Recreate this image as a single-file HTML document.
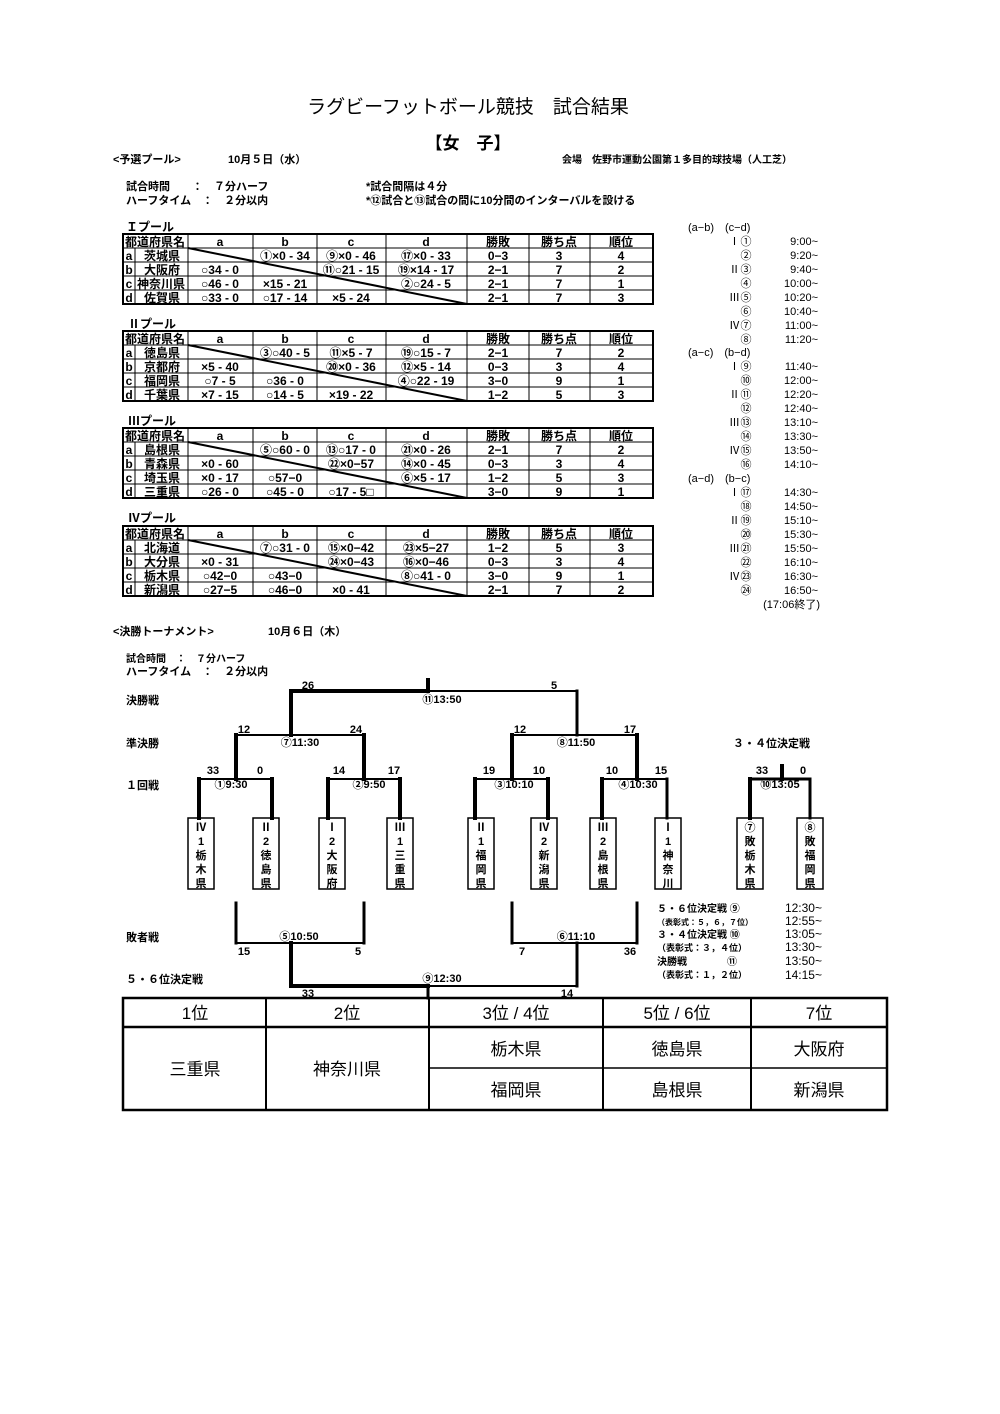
<!DOCTYPE html>
<html><head><meta charset="utf-8"><style>
html,body{margin:0;padding:0;background:#fff;}
svg{display:block;font-family:"Liberation Sans","Noto Sans CJK JP",sans-serif;}
.b{font-weight:bold}
</style></head><body>
<svg width="1000" height="1414" viewBox="0 0 1000 1414" xmlns="http://www.w3.org/2000/svg">
<rect width="1000" height="1414" fill="#fff"/>
<text x="468" y="113" font-size="19" text-anchor="middle">ラグビーフットボール競技　試合結果</text>
<text x="468" y="149" font-size="17" text-anchor="middle" class="b">【女　子】</text>
<g font-size="11" class="b">
<text x="113" y="163">&lt;予選プール&gt;</text>
<text x="228" y="163">10月５日（水）</text>
<text x="562" y="163" font-size="10">会場　佐野市運動公園第１多目的球技場（人工芝）</text>
<text x="126" y="190">試合時間　　：　７分ハーフ</text>
<text x="126" y="204">ハーフタイム　：　２分以内</text>
<text x="366" y="190">*試合間隔は４分</text>
<text x="366" y="204">*⑫試合と⑬試合の間に10分間のインターバルを設ける</text>
</g>

<defs>
<g id="grid" fill="none" stroke="#000">
<rect x="123" y="0" width="530" height="70" stroke-width="2"/>
<line x1="123" y1="14" x2="653" y2="14"/><line x1="123" y1="28" x2="653" y2="28"/><line x1="123" y1="42" x2="653" y2="42"/><line x1="123" y1="56" x2="653" y2="56"/>
<line x1="188" y1="0" x2="188" y2="70"/><line x1="253" y1="0" x2="253" y2="70"/><line x1="317" y1="0" x2="317" y2="70"/><line x1="386" y1="0" x2="386" y2="70"/><line x1="467" y1="0" x2="467" y2="70"/><line x1="529" y1="0" x2="529" y2="70"/><line x1="590" y1="0" x2="590" y2="70"/>
<line x1="135" y1="14" x2="135" y2="70"/>
<line x1="188" y1="14" x2="467" y2="70" stroke-width="2"/>
</g>
<g id="hdr" font-size="12" class="b" text-anchor="middle">
<text x="155" y="12">都道府県名</text><text x="220" y="12">a</text><text x="285" y="12">b</text><text x="351" y="12">c</text><text x="426" y="12">d</text><text x="498" y="12">勝敗</text><text x="559" y="12">勝ち点</text><text x="621" y="12">順位</text>
<text x="129" y="26">a</text><text x="129" y="40">b</text><text x="129" y="54">c</text><text x="129" y="68">d</text>
</g>
</defs>

<g font-size="12" class="b" text-anchor="middle">
<text x="150" y="231" text-anchor="middle" class="b">Ｉプール</text>
<g transform="translate(0,234)"><use href="#grid"/><use href="#hdr"/>
<text x="162" y="26">茨城県</text><text x="285" y="26">①×0 - 34</text><text x="351" y="26">⑨×0 - 46</text><text x="426" y="26">⑰×0 - 33</text><text x="498" y="26">0−3</text><text x="559" y="26">3</text><text x="621" y="26">4</text>
<text x="162" y="40">大阪府</text><text x="220" y="40">○34 - 0</text><text x="351" y="40">⑪○21 - 15</text><text x="426" y="40">⑲×14 - 17</text><text x="498" y="40">2−1</text><text x="559" y="40">7</text><text x="621" y="40">2</text>
<text x="161" y="54">神奈川県</text><text x="220" y="54">○46 - 0</text><text x="285" y="54">×15 - 21</text><text x="426" y="54">②○24 - 5</text><text x="498" y="54">2−1</text><text x="559" y="54">7</text><text x="621" y="54">1</text>
<text x="162" y="68">佐賀県</text><text x="220" y="68">○33 - 0</text><text x="285" y="68">○17 - 14</text><text x="351" y="68">×5 - 24</text><text x="498" y="68">2−1</text><text x="559" y="68">7</text><text x="621" y="68">3</text>
</g>

<text x="152" y="328">Ⅱプール</text>
<g transform="translate(0,331)"><use href="#grid"/><use href="#hdr"/>
<text x="162" y="26">徳島県</text><text x="285" y="26">③○40 - 5</text><text x="351" y="26">⑪×5 - 7</text><text x="426" y="26">⑲○15 - 7</text><text x="498" y="26">2−1</text><text x="559" y="26">7</text><text x="621" y="26">2</text>
<text x="162" y="40">京都府</text><text x="220" y="40">×5 - 40</text><text x="351" y="40">⑳×0 - 36</text><text x="426" y="40">⑫×5 - 14</text><text x="498" y="40">0−3</text><text x="559" y="40">3</text><text x="621" y="40">4</text>
<text x="162" y="54">福岡県</text><text x="220" y="54">○7 - 5</text><text x="285" y="54">○36 - 0</text><text x="426" y="54">④○22 - 19</text><text x="498" y="54">3−0</text><text x="559" y="54">9</text><text x="621" y="54">1</text>
<text x="162" y="68">千葉県</text><text x="220" y="68">×7 - 15</text><text x="285" y="68">○14 - 5</text><text x="351" y="68">×19 - 22</text><text x="498" y="68">1−2</text><text x="559" y="68">5</text><text x="621" y="68">3</text>
</g>

<text x="152" y="425">Ⅲプール</text>
<g transform="translate(0,428)"><use href="#grid"/><use href="#hdr"/>
<text x="162" y="26">島根県</text><text x="285" y="26">⑤○60 - 0</text><text x="351" y="26">⑬○17 - 0</text><text x="426" y="26">㉑×0 - 26</text><text x="498" y="26">2−1</text><text x="559" y="26">7</text><text x="621" y="26">2</text>
<text x="162" y="40">青森県</text><text x="220" y="40">×0 - 60</text><text x="351" y="40">㉒×0−57</text><text x="426" y="40">⑭×0 - 45</text><text x="498" y="40">0−3</text><text x="559" y="40">3</text><text x="621" y="40">4</text>
<text x="162" y="54">埼玉県</text><text x="220" y="54">×0 - 17</text><text x="285" y="54">○57−0</text><text x="426" y="54">⑥×5 - 17</text><text x="498" y="54">1−2</text><text x="559" y="54">5</text><text x="621" y="54">3</text>
<text x="162" y="68">三重県</text><text x="220" y="68">○26 - 0</text><text x="285" y="68">○45 - 0</text><text x="351" y="68">○17 - 5□</text><text x="498" y="68">3−0</text><text x="559" y="68">9</text><text x="621" y="68">1</text>
</g>

<text x="152" y="522">Ⅳプール</text>
<g transform="translate(0,526)"><use href="#grid"/><use href="#hdr"/>
<text x="162" y="26">北海道</text><text x="285" y="26">⑦○31 - 0</text><text x="351" y="26">⑮×0−42</text><text x="426" y="26">㉓×5−27</text><text x="498" y="26">1−2</text><text x="559" y="26">5</text><text x="621" y="26">3</text>
<text x="162" y="40">大分県</text><text x="220" y="40">×0 - 31</text><text x="351" y="40">㉔×0−43</text><text x="426" y="40">⑯×0−46</text><text x="498" y="40">0−3</text><text x="559" y="40">3</text><text x="621" y="40">4</text>
<text x="162" y="54">栃木県</text><text x="220" y="54">○42−0</text><text x="285" y="54">○43−0</text><text x="426" y="54">⑧○41 - 0</text><text x="498" y="54">3−0</text><text x="559" y="54">9</text><text x="621" y="54">1</text>
<text x="162" y="68">新潟県</text><text x="220" y="68">○27−5</text><text x="285" y="68">○46−0</text><text x="351" y="68">×0 - 41</text><text x="498" y="68">2−1</text><text x="559" y="68">7</text><text x="621" y="68">2</text>
</g>
</g>

<!-- schedule -->
<g font-size="11">
<text x="688" y="231">(a−b)　(c−d)</text>
<text x="688" y="356">(a−c)　(b−d)</text>
<text x="688" y="482">(a−d)　(b−c)</text>
<g text-anchor="end">
<text x="740" y="245">Ⅰ</text><text x="740" y="273">Ⅱ</text><text x="740" y="301">Ⅲ</text><text x="740" y="329">Ⅳ</text>
<text x="740" y="370">Ⅰ</text><text x="740" y="398">Ⅱ</text><text x="740" y="426">Ⅲ</text><text x="740" y="454">Ⅳ</text>
<text x="740" y="496">Ⅰ</text><text x="740" y="524">Ⅱ</text><text x="740" y="552">Ⅲ</text><text x="740" y="580">Ⅳ</text>
<text x="818" y="245">9:00~</text><text x="818" y="259">9:20~</text><text x="818" y="273">9:40~</text><text x="818" y="287">10:00~</text><text x="818" y="301">10:20~</text><text x="818" y="315">10:40~</text><text x="818" y="329">11:00~</text><text x="818" y="343">11:20~</text>
<text x="818" y="370">11:40~</text><text x="818" y="384">12:00~</text><text x="818" y="398">12:20~</text><text x="818" y="412">12:40~</text><text x="818" y="426">13:10~</text><text x="818" y="440">13:30~</text><text x="818" y="454">13:50~</text><text x="818" y="468">14:10~</text>
<text x="818" y="496">14:30~</text><text x="818" y="510">14:50~</text><text x="818" y="524">15:10~</text><text x="818" y="538">15:30~</text><text x="818" y="552">15:50~</text><text x="818" y="566">16:10~</text><text x="818" y="580">16:30~</text><text x="818" y="594">16:50~</text>
<text x="820" y="608">(17:06終了)</text>
</g>
<g text-anchor="middle">
<text x="746" y="245">①</text><text x="746" y="259">②</text><text x="746" y="273">③</text><text x="746" y="287">④</text><text x="746" y="301">⑤</text><text x="746" y="315">⑥</text><text x="746" y="329">⑦</text><text x="746" y="343">⑧</text>
<text x="746" y="370">⑨</text><text x="746" y="384">⑩</text><text x="746" y="398">⑪</text><text x="746" y="412">⑫</text><text x="746" y="426">⑬</text><text x="746" y="440">⑭</text><text x="746" y="454">⑮</text><text x="746" y="468">⑯</text>
<text x="746" y="496">⑰</text><text x="746" y="510">⑱</text><text x="746" y="524">⑲</text><text x="746" y="538">⑳</text><text x="746" y="552">㉑</text><text x="746" y="566">㉒</text><text x="746" y="580">㉓</text><text x="746" y="594">㉔</text>
</g>
</g>

<!-- tournament -->
<g font-size="11" class="b">
<text x="113" y="635">&lt;決勝トーナメント&gt;</text>
<text x="268" y="635">10月６日（木）</text>
<text x="126" y="662" font-size="10">試合時間　：　７分ハーフ</text>
<text x="126" y="675">ハーフタイム　：　２分以内</text>
<text x="126" y="704">決勝戦</text>
<text x="126" y="747">準決勝</text>
<text x="126" y="789">１回戦</text>
<text x="126" y="941">敗者戦</text>
<text x="126" y="983">５・６位決定戦</text>
<text x="733" y="747">３・４位決定戦</text>
</g>

<g stroke="#000" fill="none" stroke-linecap="square">
<line x1="291" y1="691" x2="577" y2="691" stroke-width="2"/>
<line x1="291" y1="691" x2="428" y2="691" stroke-width="4"/>
<line x1="428" y1="680" x2="428" y2="691" stroke-width="4"/>
<line x1="291" y1="691" x2="291" y2="735" stroke-width="4"/>
<line x1="577" y1="691" x2="577" y2="735" stroke-width="3"/>
<line x1="236" y1="735" x2="364" y2="735" stroke-width="2"/>
<line x1="512" y1="735" x2="637" y2="735" stroke-width="2"/>
<line x1="236" y1="735" x2="236" y2="779" stroke-width="4"/>
<line x1="364" y1="735" x2="364" y2="779" stroke-width="4"/>
<line x1="512" y1="735" x2="512" y2="779" stroke-width="4"/>
<line x1="637" y1="735" x2="637" y2="779" stroke-width="4"/>
<line x1="199" y1="779" x2="272" y2="779" stroke-width="2"/>
<line x1="328" y1="779" x2="400" y2="779" stroke-width="2"/>
<line x1="475" y1="779" x2="548" y2="779" stroke-width="2"/>
<line x1="602" y1="779" x2="667" y2="779" stroke-width="2"/>
<line x1="199" y1="779" x2="199" y2="818" stroke-width="4"/>
<line x1="272" y1="779" x2="272" y2="818" stroke-width="4"/>
<line x1="328" y1="779" x2="328" y2="818" stroke-width="4"/>
<line x1="400" y1="779" x2="400" y2="818" stroke-width="4"/>
<line x1="475" y1="779" x2="475" y2="818" stroke-width="4"/>
<line x1="548" y1="779" x2="548" y2="818" stroke-width="4"/>
<line x1="602" y1="779" x2="602" y2="818" stroke-width="4"/>
<line x1="667" y1="779" x2="667" y2="818" stroke-width="3"/>
<line x1="750" y1="779" x2="810" y2="779" stroke-width="3"/>
<line x1="782" y1="766" x2="782" y2="779" stroke-width="4"/>
<line x1="750" y1="779" x2="750" y2="818" stroke-width="4"/>
<line x1="810" y1="779" x2="810" y2="818" stroke-width="3"/>
<g stroke-width="1.5">
<rect x="188" y="818" width="26" height="71"/><rect x="253" y="818" width="26" height="71"/><rect x="319" y="818" width="26" height="71"/><rect x="387" y="818" width="26" height="71"/>
<rect x="468" y="818" width="26" height="71"/><rect x="531" y="818" width="26" height="71"/><rect x="590" y="818" width="26" height="71"/><rect x="655" y="818" width="26" height="71"/>
<rect x="737" y="818" width="26" height="71"/><rect x="797" y="818" width="26" height="71"/>
</g>
<line x1="236" y1="903" x2="236" y2="943" stroke-width="3"/>
<line x1="364" y1="903" x2="364" y2="943" stroke-width="3"/>
<line x1="236" y1="943" x2="364" y2="943" stroke-width="2"/>
<line x1="291" y1="943" x2="291" y2="986" stroke-width="4"/>
<line x1="512" y1="903" x2="512" y2="943" stroke-width="3"/>
<line x1="637" y1="903" x2="637" y2="943" stroke-width="3"/>
<line x1="512" y1="943" x2="637" y2="943" stroke-width="2"/>
<line x1="577" y1="943" x2="577" y2="986" stroke-width="3"/>
<line x1="291" y1="986" x2="577" y2="986" stroke-width="2"/>
<line x1="291" y1="986" x2="428" y2="986" stroke-width="4"/>
<line x1="428" y1="986" x2="428" y2="998" stroke-width="3"/>
</g>

<g font-size="11" text-anchor="middle" class="b">
<text x="308" y="689">26</text><text x="554" y="689">5</text>
<text x="442" y="703" class="b">⑪13:50</text>
<text x="244" y="733">12</text><text x="356" y="733">24</text><text x="520" y="733">12</text><text x="630" y="733">17</text>
<text x="300" y="746">⑦11:30</text><text x="576" y="746">⑧11:50</text>
<text x="213" y="774">33</text><text x="260" y="774">0</text><text x="339" y="774">14</text><text x="394" y="774">17</text>
<text x="489" y="774">19</text><text x="539" y="774">10</text><text x="612" y="774">10</text><text x="661" y="774">15</text>
<text x="762" y="774">33</text><text x="803" y="774">0</text>
<text x="231" y="788">①9:30</text><text x="369" y="788">②9:50</text><text x="514" y="788">③10:10</text><text x="638" y="788">④10:30</text><text x="780" y="788">⑩13:05</text>
</g>
<g font-size="11" text-anchor="middle" class="b">
<g transform="translate(201,0)"><text y="831">Ⅳ</text><text y="845">1</text><text y="859">栃</text><text y="873">木</text><text y="887">県</text></g>
<g transform="translate(266,0)"><text y="831">Ⅱ</text><text y="845">2</text><text y="859">徳</text><text y="873">島</text><text y="887">県</text></g>
<g transform="translate(332,0)"><text y="831">Ⅰ</text><text y="845">2</text><text y="859">大</text><text y="873">阪</text><text y="887">府</text></g>
<g transform="translate(400,0)"><text y="831">Ⅲ</text><text y="845">1</text><text y="859">三</text><text y="873">重</text><text y="887">県</text></g>
<g transform="translate(481,0)"><text y="831">Ⅱ</text><text y="845">1</text><text y="859">福</text><text y="873">岡</text><text y="887">県</text></g>
<g transform="translate(544,0)"><text y="831">Ⅳ</text><text y="845">2</text><text y="859">新</text><text y="873">潟</text><text y="887">県</text></g>
<g transform="translate(603,0)"><text y="831">Ⅲ</text><text y="845">2</text><text y="859">島</text><text y="873">根</text><text y="887">県</text></g>
<g transform="translate(668,0)"><text y="831">Ⅰ</text><text y="845">1</text><text y="859">神</text><text y="873">奈</text><text y="887">川</text></g>
<g transform="translate(750,0)"><text y="831">⑦</text><text y="845">敗</text><text y="859">栃</text><text y="873">木</text><text y="887">県</text></g>
<g transform="translate(810,0)"><text y="831">⑧</text><text y="845">敗</text><text y="859">福</text><text y="873">岡</text><text y="887">県</text></g>
</g>
<g font-size="11" text-anchor="middle" class="b">
<text x="299" y="940">⑤10:50</text><text x="576" y="940">⑥11:10</text>
<text x="244" y="955">15</text><text x="358" y="955">5</text><text x="522" y="955">7</text><text x="630" y="955">36</text>
<text x="442" y="982">⑨12:30</text>
<text x="308" y="997">33</text><text x="567" y="997">14</text>
</g>
<g font-size="10" class="b">
<text x="657" y="912">５・６位決定戦 ⑨</text><text x="657" y="925" font-size="8">（表彰式：５，６，７位）</text>
<text x="657" y="938">３・４位決定戦 ⑩</text><text x="657" y="951" font-size="9">（表彰式：３，４位）</text>
<text x="657" y="965">決勝戦　　　　⑪</text><text x="657" y="978" font-size="9">（表彰式：１，２位）</text>
</g>
<g font-size="12" text-anchor="end">
<text x="822" y="912">12:30~</text><text x="822" y="925">12:55~</text><text x="822" y="938">13:05~</text><text x="822" y="951">13:30~</text><text x="822" y="965">13:50~</text><text x="822" y="979">14:15~</text>
</g>

<!-- results -->
<g stroke="#000" fill="none">
<rect x="123" y="998" width="764" height="112" stroke-width="2.5"/>
<line x1="123" y1="1027" x2="887" y2="1027" stroke-width="2.5"/>
<line x1="429" y1="1068" x2="887" y2="1068" stroke-width="1.5"/>
<line x1="266" y1="998" x2="266" y2="1110" stroke-width="2"/>
<line x1="429" y1="998" x2="429" y2="1110" stroke-width="2"/>
<line x1="603" y1="998" x2="603" y2="1110" stroke-width="2"/>
<line x1="751" y1="998" x2="751" y2="1110" stroke-width="2"/>
</g>
<g font-size="17" text-anchor="middle">
<text x="195" y="1019">1位</text><text x="347" y="1019">2位</text><text x="516" y="1019">3位 / 4位</text><text x="677" y="1019">5位 / 6位</text><text x="819" y="1019">7位</text>
<text x="195" y="1075">三重県</text><text x="347" y="1075">神奈川県</text>
<text x="516" y="1055">栃木県</text><text x="677" y="1055">徳島県</text><text x="819" y="1055">大阪府</text>
<text x="516" y="1096">福岡県</text><text x="677" y="1096">島根県</text><text x="819" y="1096">新潟県</text>
</g>
</svg>
</body></html>
